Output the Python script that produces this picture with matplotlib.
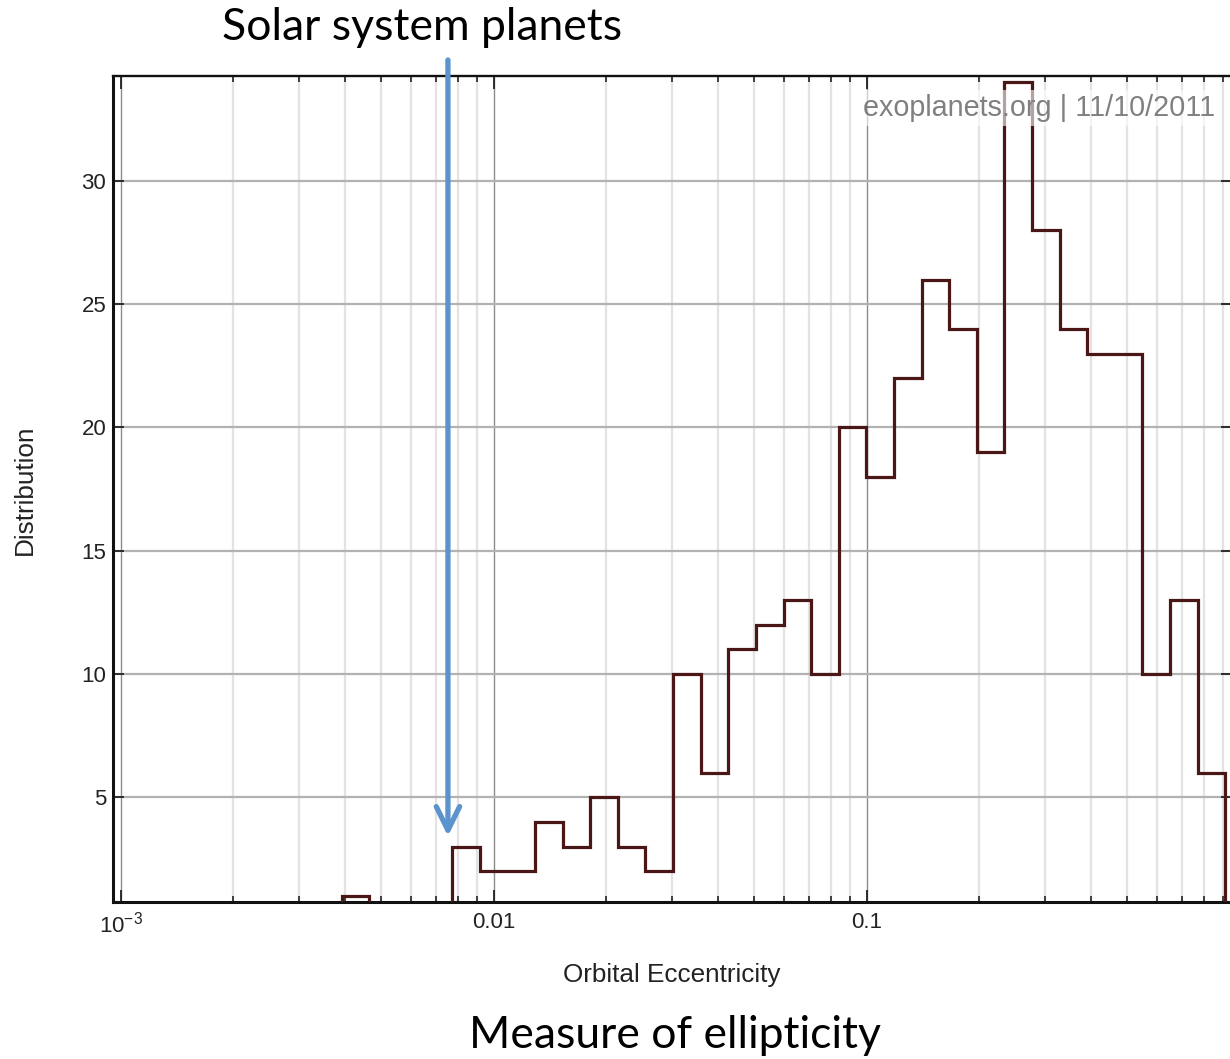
import numpy as np
import matplotlib
matplotlib.use("Agg")
import matplotlib.pyplot as plt
from matplotlib.ticker import FixedLocator, FixedFormatter, NullFormatter

# ---- data ----
counts = [1, 0, 0, 0, 3, 2, 2, 4, 3, 5, 3, 2, 10, 6, 11, 12, 13, 10,
          20, 18, 22, 26, 24, 19, 34, 28, 24, 23, 23, 10, 13, 6]
ecc_lo = 0.003914          # lowest bin edge
ecc_hi = 0.915             # highest bin edge (log-spaced bins)
major_ticks = [1e-3, 1e-2, 1e-1]
major_labels = [r"$\mathregular{10^{-3}}$", "0.01", "0.1"]
y_ticks = [5, 10, 15, 20, 25, 30]
solar_ecc = 0.00754        # where the arrow points
arrow_tip_y = 3.42

edges = np.geomspace(ecc_lo, ecc_hi, len(counts) + 1)

plt.rcParams['font.family'] = ['Liberation Sans', 'DejaVu Sans']
plt.rcParams['mathtext.fontset'] = 'custom'
plt.rcParams['mathtext.rm'] = 'Liberation Sans'

fig = plt.figure(figsize=(12.3, 10.59), dpi=100)
W, H = 1230, 1059
left_px, right_px, top_px, bot_px = 113.3, 1232, 75.7, 902
ax = fig.add_axes([left_px / W, 1 - bot_px / H, (right_px - left_px) / W, (bot_px - top_px) / H])

ax.set_xscale('log')
ax.set_xlim(9.555e-4, 0.9537)
ax.set_ylim(0.75, 34.27)

# grid
minor_x = [m * 10.0 ** e for e in (-3, -2, -1) for m in range(2, 10)]
ax.xaxis.set_major_locator(FixedLocator(major_ticks))
ax.xaxis.set_major_formatter(FixedFormatter(major_labels))
ax.xaxis.set_minor_locator(FixedLocator(minor_x))
ax.xaxis.set_minor_formatter(NullFormatter())
ax.yaxis.set_major_locator(FixedLocator(y_ticks))
ax.grid(True, axis='x', which='major', color='#8c8c8c', lw=1.0, zorder=0)
ax.grid(True, axis='x', which='minor', color='#e3e3e3', lw=1.6, zorder=0)
ax.grid(True, axis='y', which='major', color='#b2b2b2', lw=1.6, zorder=0)
ax.set_axisbelow(True)

ax.stairs(counts, edges, baseline=0, color='#4a1616', lw=2.3, zorder=3)

# ticks
ax.tick_params(axis='both', which='both', direction='in', top=True, right=True,
               colors='#222222', labelcolor='#222222')
ax.tick_params(axis='x', which='major', length=9, width=1.3, labelsize=16, pad=7)
ax.tick_params(axis='x', which='minor', length=4.2, width=1.2)
ax.tick_params(axis='y', which='major', length=8, width=1.3, labelsize=16, pad=5)
for s in ('left', 'bottom'):
    ax.spines[s].set_linewidth(2.2)
ax.spines['top'].set_linewidth(1.7)
ax.spines['right'].set_linewidth(1.7)
for s in ax.spines.values():
    s.set_color('#111111')

# watermark
ax.text(0.9848, 0.9610, "exoplanets.org | 11/10/2011", transform=ax.transAxes,
        ha='right', va='center', fontsize=20.7, color='#808080', zorder=5,
        bbox=dict(boxstyle='square,pad=0.15', facecolor='white', alpha=0.6, edgecolor='none'))

# axis labels
fig.text(672 / W, 1 - 975 / H, "Orbital Eccentricity", ha='center', va='center', fontsize=18.8, color='#222222')
fig.text(25 / W, 1 - 490 / H, "Distribution", ha='center', va='center', rotation=90, fontsize=18.8, color='#222222')

# annotations
fig.text(422 / W, 1 - 27 / H, "Solar system planets", ha='center', va='center',
         fontsize=32, family=['Lato', 'DejaVu Sans'], color='black')
fig.text(675 / W, 1 - 1036 / H, "Measure of ellipticity", ha='center', va='center',
         fontsize=32, family=['Lato', 'DejaVu Sans'], color='black')

ax.annotate("", xy=(solar_ecc, arrow_tip_y), xycoords='data',
            xytext=(solar_ecc, 1 - 60 / H), textcoords=('data', 'figure fraction'),
            arrowprops=dict(arrowstyle='->,head_length=0.85,head_width=0.42',
                            color='#5b93cc', lw=3.8, mutation_scale=20,
                            shrinkA=0, shrinkB=0),
            annotation_clip=False, zorder=10)

fig.savefig("out.png", dpi=100)
